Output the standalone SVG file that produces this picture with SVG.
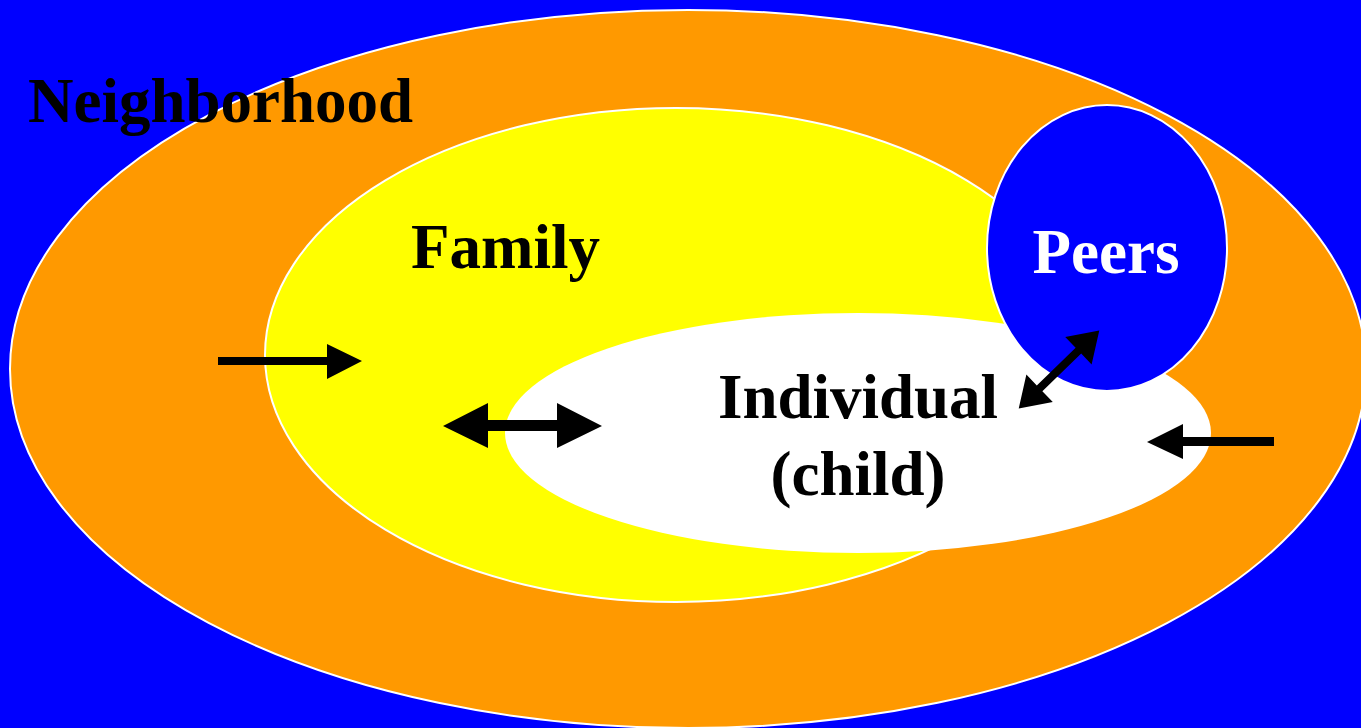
<svg xmlns="http://www.w3.org/2000/svg" width="1361" height="728" viewBox="0 0 1361 728">
<style>
.lbl{font-family:"Liberation Serif","Times New Roman",serif;font-weight:bold;font-size:63px}
.arr{fill:#000}
</style>
<rect x="0" y="0" width="1361" height="728" fill="#0000FF"/>
<g id="neighborhood">
<ellipse cx="688" cy="369" rx="678" ry="359" fill="#FF9900" stroke="#FFFFFF" stroke-width="2"/>
<text class="lbl" x="28" y="122" fill="#000">Neighborhood</text>
</g>
<g id="family">
<ellipse cx="676" cy="355" rx="411" ry="247" fill="#FFFF00" stroke="#FFFFFF" stroke-width="2"/>
<text class="lbl" x="411" y="268" fill="#000">Family</text>
</g>
<g id="individual">
<ellipse cx="858" cy="433" rx="353" ry="120" fill="#FFFFFF"/>
<text class="lbl" x="858" y="418" text-anchor="middle" fill="#000">Individual</text>
<text class="lbl" x="858" y="495" text-anchor="middle" fill="#000">(child)</text>
</g>
<g id="peers">
<ellipse cx="1107" cy="248" rx="120" ry="143" fill="#0000FF" stroke="#FFFFFF" stroke-width="2"/>
<text class="lbl" x="1106" y="273" text-anchor="middle" fill="#FFFFFF">Peers</text>
</g>
<g id="connectors">
<polygon class="arr" points="218,357 327,357 327,344 362,361 327,379 327,365 218,365"/>
<polygon class="arr" points="443,426 488,403 488,420 557,420 557,403 602,426 557,448 557,431 488,431 488,448"/>
<polygon class="arr" transform="translate(1059,369.5) rotate(-44)" points="-56,0 -27,-19 -27,-4 27,-4 27,-19 56,0 27,19 27,4 -27,4 -27,19"/>
<polygon class="arr" points="1274,437 1183,437 1183,424 1147,442 1183,459 1183,446 1274,446"/>
</g>
</svg>
